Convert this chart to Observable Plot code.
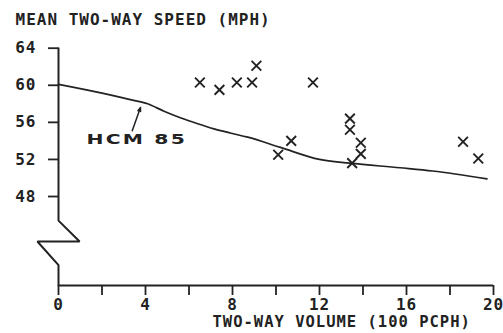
<!DOCTYPE html>
<html>
<head>
<meta charset="utf-8">
<script src="https://cdn.jsdelivr.net/npm/d3@7"></script>
<script src="https://cdn.jsdelivr.net/npm/@observablehq/plot@0.6"></script>
<style>
  html, body { margin: 0; padding: 0; background: #fff; }
</style>
</head>
<body>
<div id="chart"></div>
<script>
// ---- data ----
const titleText = "MEAN TWO-WAY SPEED (MPH)";
const xLabelText = "TWO-WAY VOLUME (100 PCPH)";
const curveLabel = "HCM 85";

// observed points (x markers): two-way volume (100 pcph), mean speed (mph)
const obsVolume = [6.5, 7.4, 8.2, 8.9, 9.1, 11.7, 10.7, 10.1, 13.4, 13.4, 13.9, 13.9, 13.5, 18.6, 19.3];
const obsSpeed  = [60.3, 59.5, 60.3, 60.3, 62.1, 60.3, 54.0, 52.5, 56.4, 55.2, 53.8, 52.6, 51.6, 53.9, 52.1];

// HCM 85 curve
const hcmVolume = [0, 2, 3.3, 4.1, 4.85, 5.6, 6.4, 7.15, 7.9, 8.7, 10.2, 12, 13.4, 15.7, 17.2, 19.7];
const hcmSpeed  = [60.1, 59.15, 58.45, 58.0, 57.2, 56.5, 55.85, 55.3, 54.85, 54.4, 53.3, 52.0, 51.6, 51.1, 50.75, 49.9];

// axis ticks
const xTicks = [0, 2, 4, 6, 8, 10, 12, 14, 16, 18, 20];
const xTickLabels = ["0", "", "4", "", "8", "", "12", "", "16", "", "20"];
const yTicks = [48, 52, 56, 60, 64];

// scale domains
const xDomain = [0, 20];
const yDomain = [38.4, 64];

// y-axis line with break symbol (data units)
const axisBreakX = [0, 0, 0.97, -0.97, 0, 0];
const axisBreakY = [64, 45.4, 43.15, 43.15, 40.6, 38.4];

// leader from label to curve
const leaderFrom = {x: 3.39, y: 55.1};
const leaderTo   = {x: 3.77, y: 57.6};
const labelPos   = {x: 1.29, y: 54.1};

// ---- build tables ----
const obs = obsVolume.map((v, i) => ({volume: v, speed: obsSpeed[i]}));
const hcm = hcmVolume.map((v, i) => ({volume: v, speed: hcmSpeed[i]}));
const axisBreak = axisBreakX.map((v, i) => ({x: v, y: axisBreakY[i]}));
const labelMap = new Map(xTicks.map((t, i) => [t, xTickLabels[i]]));

const ink = "#222";

const chart = Plot.plot({
  width: 503,
  height: 333,
  marginLeft: 58,
  marginRight: 10,
  marginTop: 47.7,
  marginBottom: 48,
  x: {domain: xDomain},
  y: {domain: yDomain},
  style: {
    fontFamily: "'DejaVu Sans Mono', monospace",
    fontSize: "16px",
    fontWeight: "bold",
    letterSpacing: "1px",
    color: ink,
    background: "#fff",
    overflow: "visible"
  },
  marks: [
    // x axis
    Plot.axisX({
      ticks: xTicks,
      tickFormat: d => labelMap.get(d),
      tickSize: 10,
      tickPadding: 3,
      strokeWidth: 1.8,
      fontSize: 16,
      fontWeight: "bold",
      color: ink,
      label: null
    }),
    Plot.ruleY([yDomain[0]], {x1: 0, x2: 20, stroke: ink, strokeWidth: 2}),
    // y axis
    Plot.axisY({
      ticks: yTicks,
      tickSize: 10,
      tickPadding: 12,
      strokeWidth: 1.8,
      fontSize: 16,
      fontWeight: "bold",
      color: ink,
      label: null
    }),
    Plot.line(axisBreak, {x: "x", y: "y", stroke: ink, strokeWidth: 2, strokeLinejoin: "miter"}),
    // HCM 85 curve
    Plot.line(hcm, {x: "volume", y: "speed", curve: "monotone-x", stroke: ink, strokeWidth: 1.7}),
    // observations
    Plot.dot(obs, {x: "volume", y: "speed", symbol: "times", r: 4.5, stroke: ink, strokeWidth: 1.9}),
    // leader
    Plot.arrow([0], {
      x1: () => leaderFrom.x, y1: () => leaderFrom.y,
      x2: () => leaderTo.x, y2: () => leaderTo.y,
      stroke: ink, strokeWidth: 1.5, headLength: 4, headAngle: 40
    }),
    // label
    Plot.text([curveLabel], {
      x: () => labelPos.x, y: () => labelPos.y,
      text: d => d,
      textAnchor: "start",
      lineAnchor: "middle",
      fontFamily: "'DejaVu Sans', sans-serif",
      fontWeight: "900",
      fontSize: 14,
      fill: ink
    }),
    // title
    Plot.text([titleText], {
      frameAnchor: "top-left",
      text: d => d,
      textAnchor: "start",
      lineAnchor: "middle",
      dx: -43,
      dy: -28,
      fontSize: 16,
      fontWeight: "bold",
      fill: ink
    }),
    // x label
    Plot.text([xLabelText], {
      frameAnchor: "bottom-left",
      text: d => d,
      textAnchor: "start",
      lineAnchor: "middle",
      dx: 154,
      dy: 37,
      fontSize: 15.5,
      fontWeight: "bold",
      fill: ink
    })
  ]
});

// stretch the HCM 85 label horizontally like the extended lettering of the original
chart.querySelectorAll("text").forEach(t => {
  if (t.textContent === curveLabel) {
    const tr = t.getAttribute("transform") || "";
    t.setAttribute("transform", tr + " scale(1.45,1)");
    t.style.letterSpacing = "1.5px";
  }
});

document.getElementById("chart").appendChild(chart);
</script>
</body>
</html>
